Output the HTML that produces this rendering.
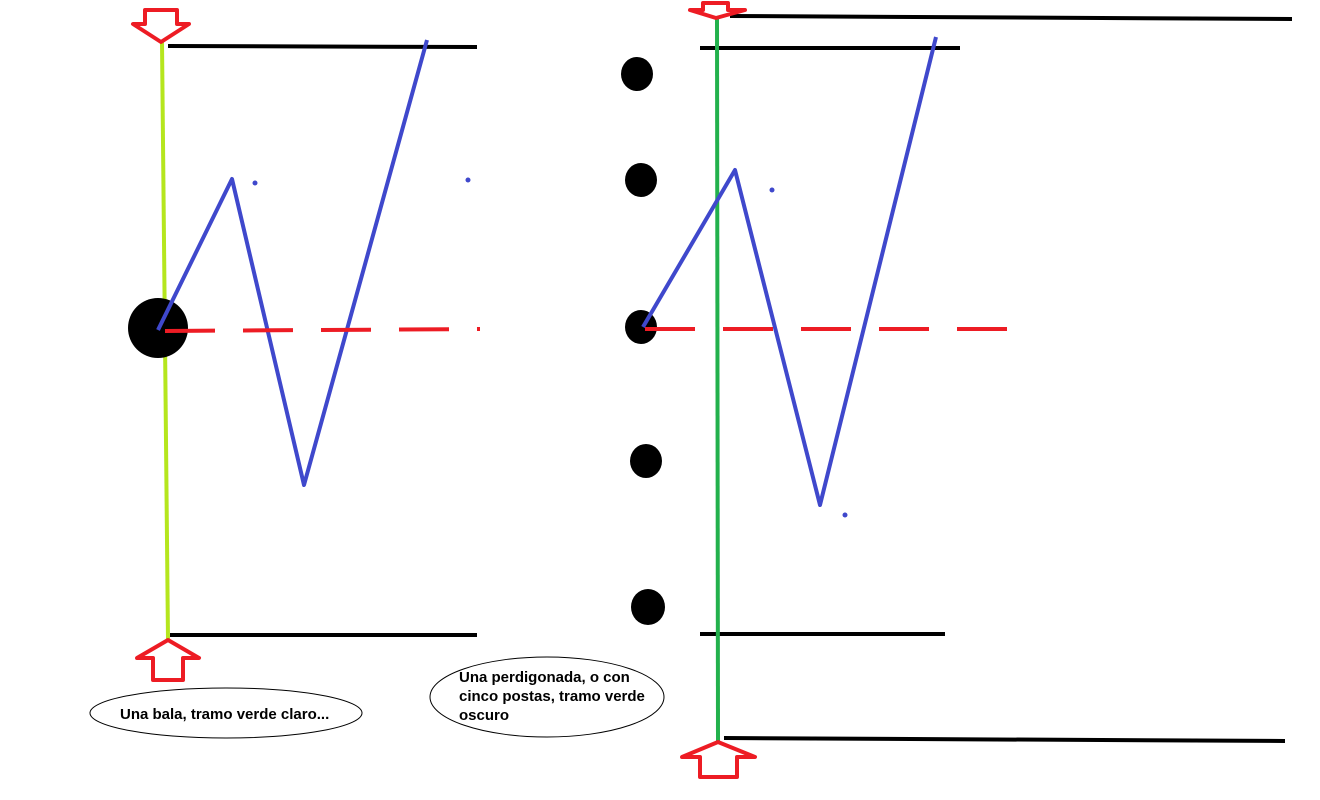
<!DOCTYPE html>
<html><head><meta charset="utf-8"><style>body{margin:0;background:#fff}svg{display:block}</style></head><body>
<svg width="1320" height="800" xmlns="http://www.w3.org/2000/svg">
<g stroke="#000" stroke-width="4">
<line x1="168" y1="46" x2="477" y2="47"/><line x1="170" y1="635" x2="477" y2="635"/>
<line x1="700" y1="48" x2="960" y2="48"/><line x1="700" y1="634" x2="945" y2="634"/>
<line x1="730" y1="16" x2="1292" y2="19"/><line x1="724" y1="738" x2="1285" y2="741"/>
</g>
<line x1="162" y1="42" x2="168" y2="640" stroke="#b5e61d" stroke-width="4"/>
<line x1="717" y1="18" x2="718" y2="742" stroke="#22b14c" stroke-width="4"/>
<g fill="#000">
<circle cx="158" cy="328" r="30"/>
<ellipse cx="637" cy="74" rx="16" ry="17"/><ellipse cx="641" cy="180" rx="16" ry="17"/>
<ellipse cx="641" cy="327" rx="16" ry="17"/><ellipse cx="646" cy="461" rx="16" ry="17"/>
<ellipse cx="648" cy="607" rx="17" ry="18"/>
</g>
<g stroke="#3f48cc" stroke-width="4" fill="none" stroke-linejoin="round">
<polyline points="158,330 232,179 304,485 427,40"/>
<polyline points="643,327 735,170 820,505 936,37"/>
</g>
<g fill="#3f48cc"><circle cx="255" cy="183" r="2.5"/><circle cx="468" cy="180" r="2.5"/><circle cx="772" cy="190" r="2.5"/><circle cx="845" cy="515" r="2.5"/></g>
<g stroke="#ed1c24" stroke-width="4" stroke-dasharray="50,28">
<line x1="165" y1="331" x2="480" y2="329"/>
<line x1="645" y1="329" x2="1030" y2="329"/>
</g>
<g fill="#fff" stroke="#ed1c24" stroke-width="4" stroke-linejoin="round">
<polygon points="145,10 177,10 177,24 189,24 161,42 133,24 145,24"/>
<polygon points="168,640 199,658 183,658 183,680 153,680 153,658 137,658"/>
<polygon points="703,3 728,3 728,10 745,10 716,18 690,10 703,10"/>
<polygon points="718,742 755,757 737,757 737,777 700,777 700,757 682,757"/>
</g>
<g fill="none" stroke="#000" stroke-width="1">
<ellipse cx="226" cy="713" rx="136" ry="25"/>
<ellipse cx="547" cy="697" rx="117" ry="40"/>
</g>
<g font-family="Liberation Sans, sans-serif" font-weight="bold" font-size="15" fill="#000">
<text x="120" y="719">Una bala, tramo verde claro...</text>
<text x="459" y="682">Una perdigonada, o con</text>
<text x="459" y="701">cinco postas, tramo verde</text>
<text x="459" y="720">oscuro</text>
</g>
</svg>
</body></html>
